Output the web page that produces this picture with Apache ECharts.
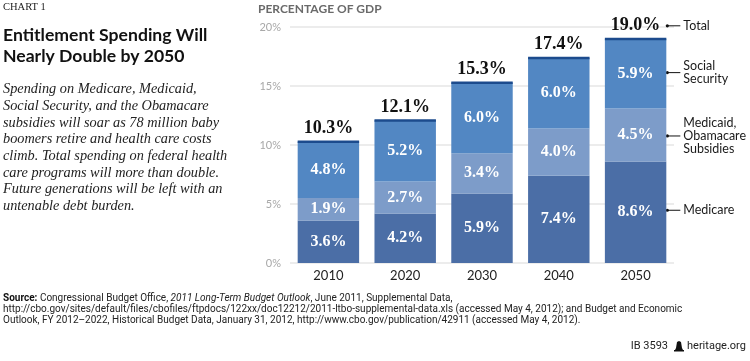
<!DOCTYPE html>
<html>
<head>
<meta charset="utf-8">
<script src="https://cdn.jsdelivr.net/npm/echarts@6/dist/echarts.min.js"></script>
<style>
html,body{margin:0;padding:0;background:#fff;}
#chart{width:750px;height:361px;}
</style>
</head>
<body>
<div id="chart"></div>
<script>
const years = ['2010', '2020', '2030', '2040', '2050'];
const medicare = [3.6, 4.2, 5.9, 7.4, 8.6];
const medicaid = [1.9, 2.7, 3.4, 4.0, 4.5];
const socialSecurity = [4.8, 5.2, 6.0, 6.0, 5.9];
const totals = [10.3, 12.1, 15.3, 17.4, 19.0];
const yTicks = [0, 5, 10, 15, 20];

const SERIF = '"Liberation Serif", "DejaVu Serif", serif';
const SANS = 'Lato, "Open Sans", Roboto, sans-serif';
const NARROW = '"Liberation Sans Narrow", Roboto, sans-serif';

const chart = echarts.init(document.getElementById('chart'), null, {renderer: 'canvas'});

const segLabel = {
  show: true, position: 'inside', color: '#fff',
  fontFamily: SERIF, fontWeight: 'bold', fontSize: 16,
  formatter: p => p.value.toFixed(1) + '%'
};

const option = {
  animation: false,
  backgroundColor: '#fff',
  grid: {left: 290, right: 76, top: 27, bottom: 98},
  xAxis: {
    type: 'category', data: years,
    axisLine: {show: false}, axisTick: {show: false},
    axisLabel: {color: '#222', fontFamily: SANS, fontSize: 13, margin: 6}
  },
  yAxis: {
    type: 'value', min: yTicks[0], max: yTicks[yTicks.length - 1], interval: 5,
    axisLine: {show: false}, axisTick: {show: false},
    axisLabel: {color: '#a8a8a8', fontFamily: SANS, fontSize: 11, margin: 9,
      formatter: v => v + '%'},
    splitLine: {lineStyle: {color: '#ececec', width: 2}}
  },
  series: [
    {name: 'Medicare', type: 'bar', stack: 't', barWidth: '80%', data: medicare,
      itemStyle: {color: '#4b6ea6'}, label: segLabel},
    {name: 'Medicaid, Obamacare Subsidies', type: 'bar', stack: 't', data: medicaid,
      itemStyle: {color: '#7d9cc9'}, label: segLabel},
    {name: 'Social Security', type: 'bar', stack: 't', data: socialSecurity,
      itemStyle: {color: '#5287c3'}, label: segLabel},
    {name: 'Total', type: 'custom', data: totals.map((v, i) => [i, v]),
      renderItem: (params, api) => {
        const p = api.coord([api.value(0), api.value(1)]);
        const w = api.size([1, 0])[0] * 0.8;
        return {type: 'group', children: [
          {type: 'rect', shape: {x: p[0] - w / 2, y: p[1] - 1, width: w, height: 2.5},
            style: {fill: '#1c4b8d'}},
          {type: 'text', x: p[0], y: p[1] - 13,
            style: {text: api.value(1).toFixed(1) + '%', fill: '#111',
              font: 'bold 18px ' + SERIF, align: 'center', verticalAlign: 'middle'}}
        ]};
      }, z: 5}
  ]
};
chart.setOption(option);

// annotations on the right of the 2050 bar
const last = years.length - 1;
const xc = chart.convertToPixel({xAxisIndex: 0}, years[last]);
const bw = chart.convertToPixel({xAxisIndex: 0}, years[1]) - chart.convertToPixel({xAxisIndex: 0}, years[0]);
const xEdge = xc + bw * 0.4 + 1;
const yPix = v => chart.convertToPixel({yAxisIndex: 0}, v);
const m = medicare[last], md = medicaid[last], ss = socialSecurity[last], tt = totals[last];
const ann = [
  {y: yPix(tt) - 13, lines: ['Total']},
  {y: yPix(m + md + ss / 2) - 1, lines: ['Social', 'Security']},
  {y: yPix(m + md / 2) + 1, lines: ['Medicaid,', 'Obamacare', 'Subsidies']},
  {y: yPix(m / 2) - 2, lines: ['Medicare']}
];
const graphics = [];
ann.forEach(a => {
  graphics.push({type: 'circle', shape: {cx: xEdge, cy: a.y, r: 1.6}, style: {fill: '#111'}});
  graphics.push({type: 'line', shape: {x1: xEdge, y1: a.y, x2: xEdge + 13, y2: a.y}, style: {stroke: '#111', lineWidth: 1}});
  graphics.push({type: 'text', x: xEdge + 16, y: a.y,
    style: {text: a.lines.join('\n'), fill: '#1a1a1a', font: '12.5px ' + SANS,
      lineHeight: 13, verticalAlign: 'middle', align: 'left'}});
});

// left texts
graphics.push({type: 'text', x: 3, y: 7, style: {text: 'CHART 1', fill: '#222', font: '10.5px ' + SERIF, verticalAlign: 'middle'}});
graphics.push({type: 'text', x: 3, y: 35, style: {text: 'Entitlement Spending Will', fill: '#111', font: 'bold 17.6px ' + SANS, verticalAlign: 'middle'}});
graphics.push({type: 'text', x: 3, y: 56, style: {text: 'Nearly Double by 2050', fill: '#111', font: 'bold 17.6px ' + SANS, verticalAlign: 'middle'}});
const sub = ['Spending on Medicare, Medicaid,', 'Social Security, and the Obamacare',
  'subsidies will soar as 78 million baby', 'boomers retire and health care costs',
  'climb. Total spending on federal health', 'care programs will more than double.',
  'Future generations will be left with an', 'untenable debt burden.'];
sub.forEach((t, i) => graphics.push({type: 'text', x: 3, y: 89.5 + i * 16.65,
  style: {text: t, fill: '#222', font: 'italic 14.3px ' + SERIF, verticalAlign: 'middle'}}));

graphics.push({type: 'text', x: 258, y: 9, style: {text: 'PERCENTAGE OF GDP', fill: '#6a6a6a', font: 'bold 12px ' + SANS, verticalAlign: 'middle'}});

// source
graphics.push({type: 'text', x: 3, y: 298, style: {
  text: '{b|Source:} Congressional Budget Office, {i|2011 Long-Term Budget Outlook}, June 2011, Supplemental Data,',
  font: '10px ' + NARROW, fill: '#222', verticalAlign: 'middle',
  rich: {b: {fontWeight: 'bold', fontFamily: NARROW, fontSize: 10, fill: '#111'}, i: {fontStyle: 'italic', fontFamily: NARROW, fontSize: 10}}}});
graphics.push({type: 'text', x: 3, y: 309, style: {
  text: 'http://cbo.gov/sites/default/files/cbofiles/ftpdocs/122xx/doc12212/2011-ltbo-supplemental-data.xls (accessed May 4, 2012); and Budget and Economic',
  font: '10px ' + NARROW, fill: '#222', verticalAlign: 'middle'}});
graphics.push({type: 'text', x: 3, y: 320, style: {
  text: 'Outlook, FY 2012\u20132022, Historical Budget Data, January 31, 2012, http://www.cbo.gov/publication/42911 (accessed May 4, 2012).',
  font: '10px ' + NARROW, fill: '#222', verticalAlign: 'middle'}});

// footer
graphics.push({type: 'text', x: 668, y: 346, style: {text: 'IB 3593', font: '11px ' + NARROW, fill: '#222', align: 'right', verticalAlign: 'middle'}});
graphics.push({type: 'polygon', shape: {points: [[675, 350], [683, 350], [682, 348], [681, 342], [679, 341], [677, 342], [676, 348]]}, style: {fill: '#111'}});
graphics.push({type: 'rect', shape: {x: 674, y: 350, width: 10, height: 1.5}, style: {fill: '#111'}});
graphics.push({type: 'text', x: 687, y: 346, style: {text: 'heritage.org', font: '11px ' + NARROW, fill: '#222', verticalAlign: 'middle'}});

chart.setOption({graphic: graphics});
</script>
</body>
</html>
